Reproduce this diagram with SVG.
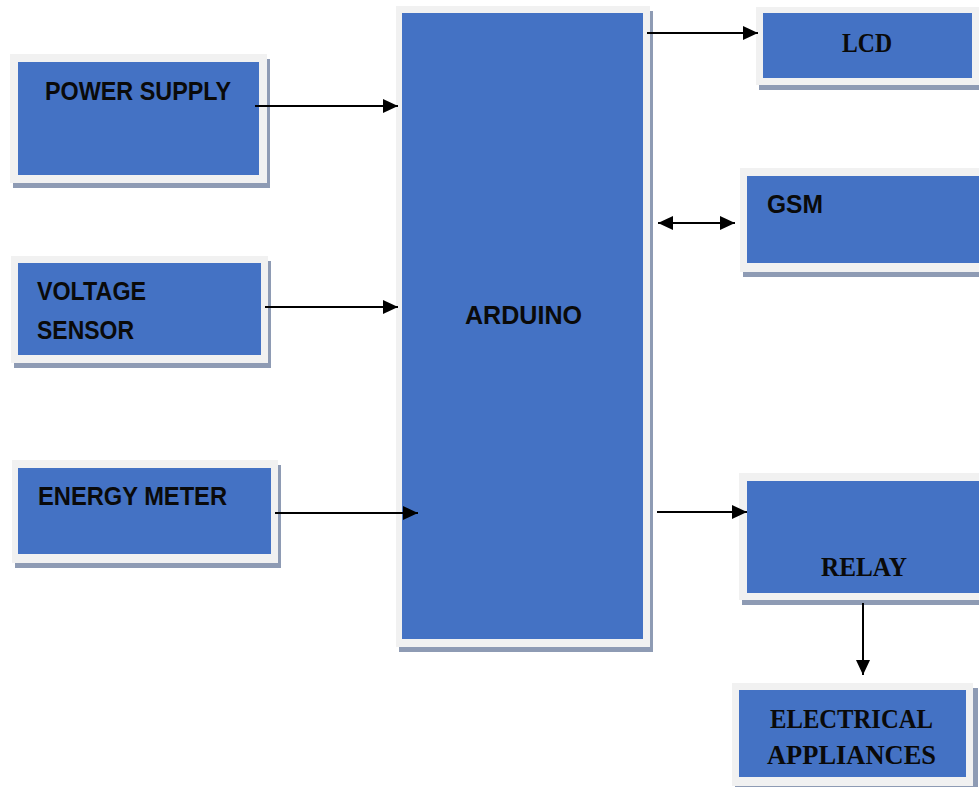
<svg xmlns="http://www.w3.org/2000/svg" width="979" height="787" viewBox="0 0 979 787">
<defs>
<style>
.sh{fill:#8E9BB4}
.bd{fill:#F1F1F1}
.bl{fill:#4472C4}
.ts{font-family:"Liberation Sans",Arial,sans-serif;font-weight:bold;font-size:25px;fill:#0a0a0a}
.tr{font-family:"Liberation Serif","Times New Roman",serif;font-weight:bold;font-size:28px;fill:#0a0a0a}
.ln{stroke:#000;stroke-width:2;fill:none}
</style>
<marker id="ah" markerUnits="userSpaceOnUse" markerWidth="16" markerHeight="14" refX="15" refY="7" orient="auto-start-reverse">
<path d="M0,0 L15,7 L0,14 Z" fill="#000"/>
</marker>
</defs>
<rect width="979" height="787" fill="#fff"/>

<g id="power-supply">
<rect class="sh" x="13" y="59" width="257" height="129"/>
<rect class="bd" x="10" y="54" width="257" height="129"/>
<rect class="bl" x="18" y="62" width="241" height="113"/>
<text class="ts" x="45" y="100" textLength="186" lengthAdjust="spacingAndGlyphs">POWER SUPPLY</text>
</g>

<g id="voltage-sensor">
<rect class="sh" x="14" y="261" width="257" height="107"/>
<rect class="bd" x="11" y="256" width="257" height="107"/>
<rect class="bl" x="18" y="263" width="243" height="92"/>
<text class="ts" x="37" y="300" textLength="109" lengthAdjust="spacingAndGlyphs">VOLTAGE</text>
<text class="ts" x="37" y="339" textLength="97" lengthAdjust="spacingAndGlyphs">SENSOR</text>
</g>

<g id="energy-meter">
<rect class="sh" x="15" y="465" width="266" height="103"/>
<rect class="bd" x="12" y="460" width="266" height="103"/>
<rect class="bl" x="18" y="468" width="253" height="86"/>
<text class="ts" x="38" y="505" textLength="189" lengthAdjust="spacingAndGlyphs">ENERGY METER</text>
</g>

<g id="arduino">
<rect class="sh" x="399" y="11" width="254" height="641"/>
<rect class="bd" x="396" y="6" width="254" height="641"/>
<rect class="bl" x="402" y="13" width="241" height="626"/>
<text class="ts" x="465" y="324" textLength="117" lengthAdjust="spacingAndGlyphs">ARDUINO</text>
</g>

<g id="lcd">
<rect class="sh" x="759" y="12" width="230" height="78"/>
<rect class="bd" x="756" y="7" width="223" height="78"/>
<rect class="bl" x="763" y="13" width="209" height="65"/>
<text class="tr" x="842" y="52" textLength="50" lengthAdjust="spacingAndGlyphs">LCD</text>
</g>

<g id="gsm">
<rect class="sh" x="743" y="173" width="250" height="104"/>
<rect class="bd" x="740" y="168" width="250" height="104"/>
<rect class="bl" x="747" y="176" width="240" height="87"/>
<text class="ts" x="767" y="213" textLength="56" lengthAdjust="spacingAndGlyphs">GSM</text>
</g>

<g id="relay">
<rect class="sh" x="742" y="478" width="250" height="127"/>
<rect class="bd" x="739" y="473" width="250" height="127"/>
<rect class="bl" x="747" y="481" width="240" height="112"/>
<text class="tr" x="821" y="576" textLength="86" lengthAdjust="spacingAndGlyphs">RELAY</text>
</g>

<g id="electrical-appliances">
<rect class="sh" x="735" y="688" width="243" height="103"/>
<rect class="bd" x="732" y="683" width="241" height="103"/>
<rect class="bl" x="739" y="690" width="227" height="87"/>
<text class="tr" x="770" y="728" textLength="163" lengthAdjust="spacingAndGlyphs">ELECTRICAL</text>
<text class="tr" x="767" y="764" textLength="169" lengthAdjust="spacingAndGlyphs">APPLIANCES</text>
</g>

<g id="connectors">
<line class="ln" x1="255" y1="106" x2="398" y2="106" marker-end="url(#ah)"/>
<line class="ln" x1="265" y1="307" x2="398" y2="307" marker-end="url(#ah)"/>
<line class="ln" x1="275" y1="513" x2="418" y2="513" marker-end="url(#ah)"/>
<line class="ln" x1="647" y1="33" x2="758" y2="33" marker-end="url(#ah)"/>
<line class="ln" x1="658" y1="223" x2="735" y2="223" marker-start="url(#ah)" marker-end="url(#ah)"/>
<line class="ln" x1="657" y1="512" x2="747" y2="512" marker-end="url(#ah)"/>
<line class="ln" x1="863" y1="603" x2="863" y2="675" marker-end="url(#ah)"/>
</g>
</svg>
